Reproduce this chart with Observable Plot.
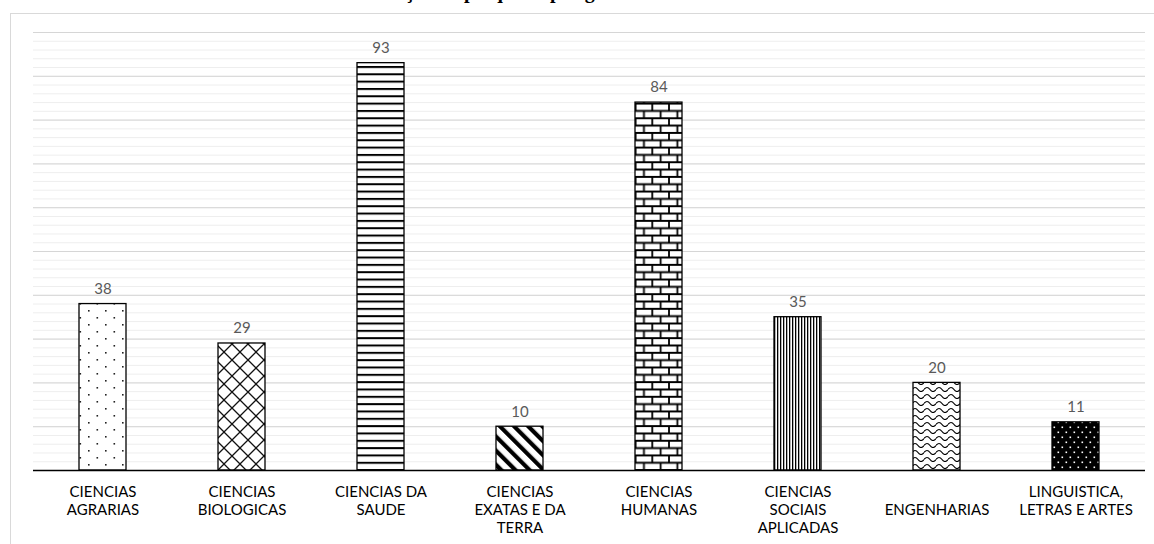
<!DOCTYPE html>
<html>
<head>
<meta charset="utf-8">
<script src="https://cdn.jsdelivr.net/npm/d3@7"></script>
<script src="https://cdn.jsdelivr.net/npm/@observablehq/plot@0.6"></script>
<style>
  html, body { margin: 0; padding: 0; background: #fff; }
  #wrap { position: relative; width: 1154px; height: 544px; overflow: hidden; }
  #frame { position: absolute; left: 10px; top: 13px; width: 1200px; height: 600px; border: 1px solid #d9d9d9; box-sizing: border-box; }
  #title { position: absolute; left: 0; width: 1110px; top: -19px; text-align: center; font-family: "Liberation Serif", serif; font-weight: bold; font-size: 20px; line-height: 21px; color: #000; white-space: nowrap; }
  #chart { position: absolute; left: 0; top: 0; }
</style>
</head>
<body>
<div id="wrap">
  <div id="frame"></div>
  <div id="title">Gráfico 3: Relação de pesquisas por grande área do conhecimento</div>
  <div id="chart"></div>
</div>
<script>
const categories = ["CIENCIAS AGRARIAS", "CIENCIAS BIOLOGICAS", "CIENCIAS DA SAUDE", "CIENCIAS EXATAS E DA TERRA", "CIENCIAS HUMANAS", "CIENCIAS SOCIAIS APLICADAS", "ENGENHARIAS", "LINGUISTICA, LETRAS E ARTES"];
const tickLabels = ["CIENCIAS\nAGRARIAS", "CIENCIAS\nBIOLOGICAS", "CIENCIAS DA\nSAUDE", "CIENCIAS\nEXATAS E DA\nTERRA", "CIENCIAS\nHUMANAS", "CIENCIAS\nSOCIAIS\nAPLICADAS", "\nENGENHARIAS", "LINGUISTICA,\nLETRAS E ARTES"];
const values = [38, 29, 93, 10, 84, 35, 20, 11];
const patterns = ["pDots", "pCross", "pHoriz", "pDiag", "pBrick", "pVert", "pWave", "pDarkDots"];
const minorTicks = d3.range(0, 101, 2);
const majorTicks = d3.range(0, 101, 10);

const data = categories.map((c, i) => ({cat: c, label: tickLabels[i], value: values[i], pattern: patterns[i]}));

const chart = Plot.plot({
  width: 1154,
  height: 544,
  marginLeft: 33,
  marginRight: 9,
  marginTop: 32,
  marginBottom: 74,
  style: {fontFamily: "Lato, 'Open Sans', sans-serif", background: "transparent"},
  x: {domain: categories, paddingInner: 0.66, paddingOuter: 0.33, axis: null},
  y: {domain: [0, 100], axis: null},
  marks: [
    Plot.gridY(minorTicks, {stroke: "#eeeeee", strokeOpacity: 1, strokeWidth: 1}),
    Plot.gridY(majorTicks, {stroke: "#d6d6d6", strokeOpacity: 1, strokeWidth: 1}),
    Plot.barY(data, {x: "cat", y: "value", fill: "white", stroke: "black", strokeWidth: 1.3}),
    Plot.ruleY([0], {stroke: "black", strokeWidth: 1.5}),
    Plot.text(data, {x: "cat", y: "value", text: d => String(d.value), dy: -15, fill: "#595959", fontSize: 15}),
    Plot.text(data, {x: "cat", y: 0, text: "label", dy: 14, lineAnchor: "top", lineHeight: 1.2, fill: "#000", fontSize: 15})
  ]
});

// pattern definitions for the bar fills
const ns = "http://www.w3.org/2000/svg";
const defs = document.createElementNS(ns, "defs");
defs.innerHTML = `
  <pattern id="pDots" patternUnits="userSpaceOnUse" width="17" height="14">
    <rect width="17" height="14" fill="white"/>
    <rect x="3" y="2" width="1.6" height="1.6" fill="#222"/>
    <rect x="11.5" y="9" width="1.6" height="1.6" fill="#222"/>
  </pattern>
  <pattern id="pCross" patternUnits="userSpaceOnUse" width="16" height="16">
    <rect width="16" height="16" fill="white"/>
    <path d="M0 0 L16 16 M16 0 L0 16 M-8 8 L0 0 M8 -8 L24 8 M-8 8 L8 24 M8 24 L24 8" stroke="#111" stroke-width="1.3" fill="none"/>
  </pattern>
  <pattern id="pHoriz" patternUnits="userSpaceOnUse" width="10" height="7.33">
    <rect width="10" height="7.33" fill="white"/>
    <rect x="0" y="0" width="10" height="2" fill="#000"/>
  </pattern>
  <pattern id="pDiag" patternUnits="userSpaceOnUse" width="10" height="10" patternTransform="rotate(-45)">
    <rect width="10" height="10" fill="white"/>
    <rect x="0" y="0" width="4.2" height="10" fill="#000"/>
  </pattern>
  <pattern id="pBrick" patternUnits="userSpaceOnUse" width="16.7" height="14.66">
    <rect width="16.7" height="14.66" fill="white"/>
    <path d="M0 1 H16.7 M0 8.33 H16.7 M1 1 V8.33 M9.35 8.33 V15.66" stroke="#000" stroke-width="1.8" fill="none"/>
  </pattern>
  <pattern id="pVert" patternUnits="userSpaceOnUse" width="3" height="10">
    <rect width="3" height="10" fill="white"/>
    <rect x="0" y="0" width="1.3" height="10" fill="#000"/>
  </pattern>
  <pattern id="pWave" patternUnits="userSpaceOnUse" width="12" height="7">
    <rect width="12" height="7" fill="white"/>
    <path d="M0 4.5 Q3 0.5 6 4.5 T12 4.5" stroke="#000" stroke-width="1.2" fill="none"/>
  </pattern>
  <pattern id="pDarkDots" patternUnits="userSpaceOnUse" width="8" height="10">
    <rect width="8" height="10" fill="#000"/>
    <rect x="1.5" y="1.5" width="1.6" height="1.6" fill="#fff"/>
    <rect x="5.5" y="6.5" width="1.6" height="1.6" fill="#fff"/>
  </pattern>`;
chart.insertBefore(defs, chart.firstChild);
const barRects = chart.querySelectorAll('g[aria-label="bar"] rect');
barRects.forEach((r, i) => r.setAttribute("fill", `url(#${data[i].pattern})`));

document.getElementById("chart").appendChild(chart);
</script>
</body>
</html>
